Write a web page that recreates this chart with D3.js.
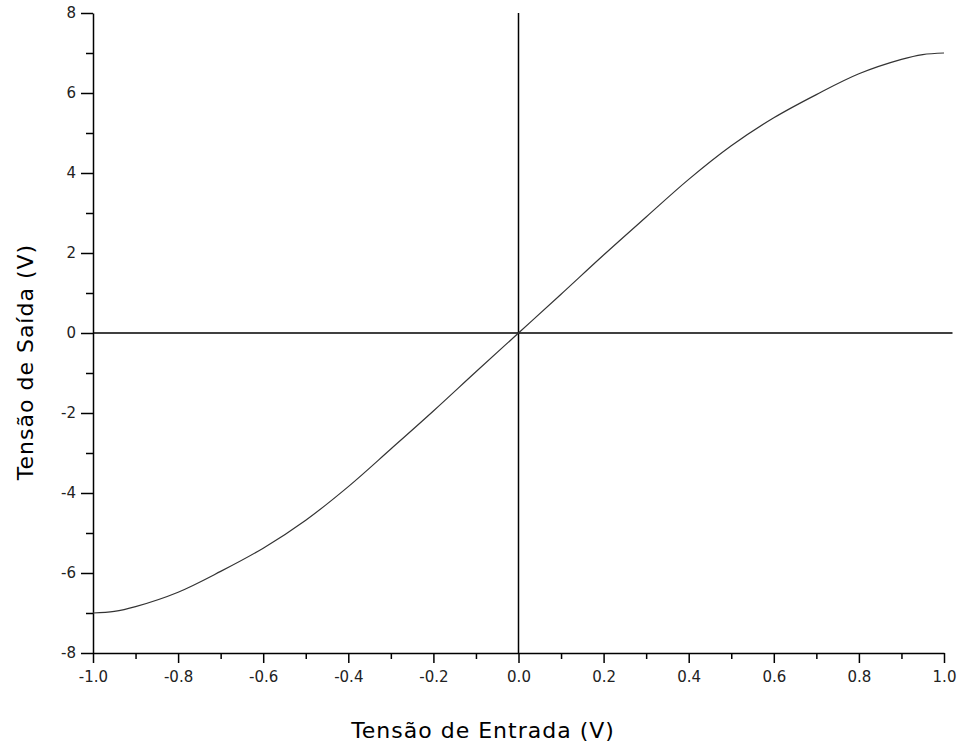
<!DOCTYPE html>
<html>
<head>
<meta charset="utf-8">
<script src="https://cdn.jsdelivr.net/npm/d3@7"></script>
<style>
  html, body { margin: 0; padding: 0; background: #fff; }
  svg { display: block; }
  .tick text { font-family: "DejaVu Sans", sans-serif; font-size: 15px; fill: #222; }
  .axis-title { font-family: "DejaVu Sans", sans-serif; font-size: 22px; letter-spacing: 1px; fill: #000; }
</style>
</head>
<body>
<div id="chart"></div>
<script>
// Tensão de entrada (V) e de saída (V)
const inputV = [-1.0, -0.95, -0.9, -0.8, -0.7, -0.6, -0.5, -0.4, -0.3, -0.2, -0.1, 0.0,
  0.1, 0.2, 0.3, 0.4, 0.5, 0.6, 0.7, 0.8, 0.9, 0.95, 1.0];
const outputV = [-7.0, -6.96, -6.84, -6.48, -5.96, -5.38, -4.68, -3.84, -2.9, -1.95, -0.97, 0.0,
  0.97, 1.95, 2.9, 3.84, 4.68, 5.38, 5.96, 6.48, 6.84, 6.96, 7.0];

const xMajor = [-1.0, -0.8, -0.6, -0.4, -0.2, 0.0, 0.2, 0.4, 0.6, 0.8, 1.0];
const xMinor = [-0.9, -0.7, -0.5, -0.3, -0.1, 0.1, 0.3, 0.5, 0.7, 0.9];
const yMajor = [-8, -6, -4, -2, 0, 2, 4, 6, 8];
const yMinor = [-7, -5, -3, -1, 1, 3, 5, 7];

const xTitle = "Tensão de Entrada (V)";
const yTitle = "Tensão de Saída (V)";

const width = 961;
const height = 756;
const margin = { top: 13, right: 17, bottom: 103, left: 93 };

const svg = d3.select("#chart")
  .append("svg")
  .attr("width", width)
  .attr("height", height);

const x = d3.scaleLinear()
  .domain([-1, 1])
  .range([margin.left, width - margin.right]);
const y = d3.scaleLinear()
  .domain([-8, 8])
  .range([height - margin.bottom, margin.top]);

const fmtX = (d) => d.toFixed(1);
const fmtY = (d) => String(d);

// minor ticks first, then major axes with labels
svg.append("g")
  .attr("transform", `translate(0,${y(-8)})`)
  .call(d3.axisBottom(x).tickValues(xMinor).tickSize(6).tickSizeOuter(0).tickFormat(""))
  .call((g) => g.select(".domain").remove())
  .call((g) => g.selectAll(".tick line").attr("stroke-width", 1.5));

svg.append("g")
  .attr("transform", `translate(${x(-1)},0)`)
  .call(d3.axisLeft(y).tickValues(yMinor).tickSize(7).tickSizeOuter(0).tickFormat(""))
  .call((g) => g.select(".domain").remove())
  .call((g) => g.selectAll(".tick line").attr("stroke-width", 1.5));

svg.append("g")
  .attr("transform", `translate(0,${y(-8)})`)
  .call(d3.axisBottom(x).tickValues(xMajor).tickSize(10).tickSizeOuter(0).tickPadding(8).tickFormat(fmtX))
  .attr("font-size", null)
  .attr("font-family", null)
  .call((g) => g.select(".domain").attr("stroke-width", 1.5))
  .call((g) => g.selectAll(".tick line").attr("stroke-width", 1.5));

svg.append("g")
  .attr("transform", `translate(${x(-1)},0)`)
  .call(d3.axisLeft(y).tickValues(yMajor).tickSize(12).tickSizeOuter(0).tickPadding(5).tickFormat(fmtY))
  .attr("font-size", null)
  .attr("font-family", null)
  .call((g) => g.select(".domain").attr("stroke-width", 1.5))
  .call((g) => g.selectAll(".tick line").attr("stroke-width", 1.5));

// crosshair through the origin
svg.append("line")
  .attr("x1", x(0)).attr("x2", x(0))
  .attr("y1", y(8)).attr("y2", y(-8))
  .attr("stroke", "#000")
  .attr("stroke-width", 1.5);
svg.append("line")
  .attr("x1", x(-1)).attr("x2", x(1.02))
  .attr("y1", y(0)).attr("y2", y(0))
  .attr("stroke", "#000")
  .attr("stroke-width", 1.5);

// transfer curve
const line = d3.line()
  .x((d, i) => x(inputV[i]))
  .y((d) => y(d))
  .curve(d3.curveCatmullRom.alpha(0.5));

svg.append("path")
  .datum(outputV)
  .attr("fill", "none")
  .attr("stroke", "#333")
  .attr("stroke-width", 1.2)
  .attr("d", line);

// axis titles
svg.append("text")
  .attr("class", "axis-title")
  .attr("x", 483)
  .attr("y", 738)
  .attr("text-anchor", "middle")
  .text(xTitle);

svg.append("text")
  .attr("class", "axis-title")
  .attr("transform", `translate(33,${362}) rotate(-90)`)
  .attr("text-anchor", "middle")
  .text(yTitle);
</script>
</body>
</html>
